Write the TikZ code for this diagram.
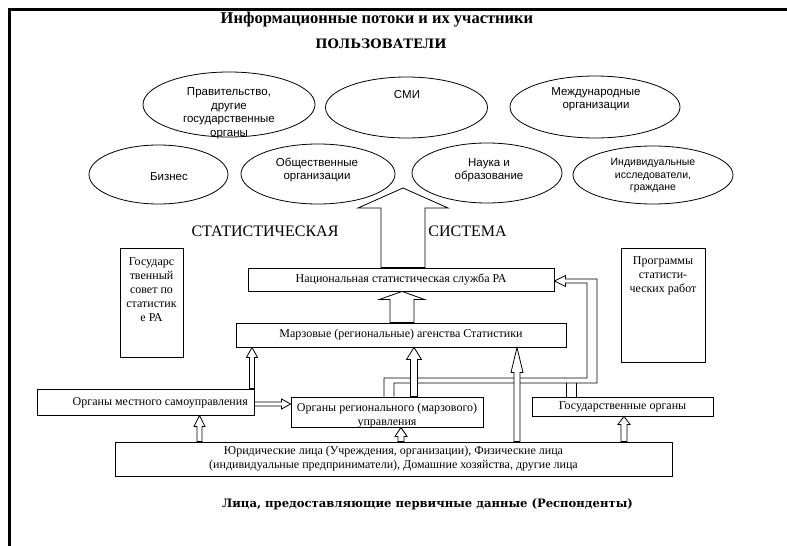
\documentclass[tikz,border=0pt]{standalone}
\usepackage{fontspec}
\setmainfont{Liberation Serif}
\newfontfamily\sansf{Liberation Sans}
\newfontfamily\dvserif{DejaVu Serif}
\usetikzlibrary{shapes.geometric,calc}
\tikzset{
  ell/.style={draw, ellipse, line width=0.8pt, inner sep=0pt},
  box/.style={draw, line width=0.9pt, inner sep=0pt, align=center, font=\fontsize{12}{14}\selectfont},
  txt/.style={inner sep=0pt, align=center, font=\fontsize{12}{14}\selectfont},
  stxt/.style={inner sep=0pt, align=center, font=\sansf\fontsize{11.5}{13.5}\selectfont},
  blk/.style={draw, fill=white, line width=0.8pt, line join=miter},
  conn/.style={draw, line width=0.8pt}
}
\newcommand\blkup[6]{\draw[blk] let \p1=(#2), \p2=(#3) in
  (#1pt-#4pt,\y1) -- (#1pt-#4pt,\y2-#6pt) -- (#1pt-#5pt,\y2-#6pt) -- (#1pt,\y2) --
  (#1pt+#5pt,\y2-#6pt) -- (#1pt+#4pt,\y2-#6pt) -- (#1pt+#4pt,\y1) -- cycle;}
\newcommand\blkright[6]{\draw[blk] let \p1=(#2), \p2=(#3) in
  (\x1,-#1pt+#4pt) -- (\x2-#6pt,-#1pt+#4pt) -- (\x2-#6pt,-#1pt+#5pt) -- (\x2,-#1pt) --
  (\x2-#6pt,-#1pt-#5pt) -- (\x2-#6pt,-#1pt-#4pt) -- (\x1,-#1pt-#4pt) -- cycle;}
\begin{document}
\begin{tikzpicture}[x=1pt,y=-1pt]
\useasboundingbox (0,0) rectangle (787,546);
\draw[line width=3pt] (9,550) -- (9,9) -- (792,9);

% headings
\node[inner sep=0pt, font=\bfseries\fontsize{16.5}{18}\selectfont] (title) at (377,20) {Информационные потоки и их участники};
\node[inner sep=0pt, font=\dvserif\bfseries\fontsize{13}{15}\selectfont] (users) at (381,44) {ПОЛЬЗОВАТЕЛИ};
\node[inner sep=0pt, font=\dvserif\bfseries\fontsize{11.6}{14}\selectfont] (resp) at (427.5,504) {Лица, предоставляющие первичные данные (Респонденты)};

% users ellipses
\node[ell, minimum width=172pt, minimum height=65pt] (e1) at (229,104.5) {};
\node[ell, minimum width=162pt, minimum height=61pt] (e2) at (406.5,107.5) {};
\node[ell, minimum width=170pt, minimum height=62pt] (e3) at (595,107) {};
\node[ell, minimum width=139pt, minimum height=59pt] (e4) at (158.5,174.5) {};
\node[ell, minimum width=154pt, minimum height=60pt] (e5) at (318,174) {};
\node[ell, minimum width=150pt, minimum height=60pt] (e6) at (487,173) {};
\node[ell, minimum width=160pt, minimum height=58pt] (e7) at (653,175) {};

\node[stxt] (t1) at (229,113) {Правительство,\\другие\\государственные\\органы};
\node[stxt] (t2) at (407,95) {СМИ};
\node[stxt] (t3) at (596,99) {Международные\\организации};
\node[stxt] (t4) at (169,177) {Бизнес};
\node[stxt] (t5) at (317,170) {Общественные\\организации};
\node[stxt] (t6) at (489,170) {Наука и\\образование};
\node[stxt, font=\sansf\fontsize{10.5}{12.5}\selectfont] (t7) at (653,175.5) {Индивидуальные\\исследователи,\\граждане};

% system labels
\node[inner sep=0pt, font=\fontsize{16}{18}\selectfont] (stat) at (265,231) {СТАТИСТИЧЕСКАЯ};
\node[inner sep=0pt, font=\fontsize{16}{18}\selectfont] (sys) at (467.5,231) {СИСТЕМА};

% boxes
\node[box, minimum width=63pt, minimum height=109pt] (gsov) at (151.5,302.5) {};
\node[txt] (gsovt) at (151.5,289.5) {Государс\\твенный\\совет по\\статистик\\е РА};
\node[box, minimum width=84pt, minimum height=114pt] (prog) at (663,305) {};
\node[txt] (progt) at (663,275.5) {Программы\\статисти-\\ческих работ};
\node[box, minimum width=306pt, minimum height=23pt] (nat) at (401,279.5) {Национальная статистическая служба РА};
\node[box, minimum width=330pt, minimum height=24pt] (marz) at (401,335) {Марзовые (региональные) агенства Статистики};
\node[box, minimum width=217pt, minimum height=26pt] (mest) at (145.5,402) {};
\node[txt, anchor=east] (mestt) at (248,402.5) {Органы местного самоуправления};
\node[box, minimum width=192pt, minimum height=30pt] (reg) at (387,412) {};
\node[txt] (regt) at (387,415.5) {Органы регионального (марзового)\\управления};
\node[box, minimum width=181pt, minimum height=19pt] (gos) at (622.5,406.5) {Государственные органы};
\node[box, minimum width=557pt, minimum height=34pt] (jur) at (393.5,459) {Юридические лица (Учреждения, организации), Физические лица\\(индивидуальные предприниматели), Домашние хозяйства, другие лица};

% double-line connector into the national service
\draw[conn] let \p1=(reg.north), \p2=($(nat.east)+(0,1.5)$) in
  (384pt,\y1) -- (384pt,-378pt) -- (587pt,-378pt) -- (587pt,\y2-2pt) -- (\x2+11pt,\y2-2pt) --
  (\x2+11pt,\y2-5.5pt) -- (\x2,\y2) -- (\x2+11pt,\y2+5.5pt) -- (\x2+11pt,\y2+2pt) --
  (597pt,\y2+2pt) -- (597pt,-383pt) -- (394pt,-383pt) -- (394pt,\y1);
\draw[conn] let \p1=(gos.north) in (566pt,\y1) -- (566pt,-383pt) (576pt,\y1) -- (576pt,-383pt);

% block arrows
\coordinate (bigtip) at (403,188);
\blkup{403}{nat.north}{bigtip}{22}{45}{20}
\blkup{402}{marz.north}{nat.south}{12}{22.5}{8}
\blkup{252}{mest.north}{marz.south}{2.5}{5.5}{10}
\blkup{414}{reg.north}{marz.south}{3.5}{7.5}{12}
\blkup{517}{jur.north}{marz.south}{3}{6}{25}
\blkup{401}{jur.north}{reg.south}{3}{6}{9}
\blkup{199.5}{jur.north}{mest.south}{2.5}{5.5}{11}
\blkup{624}{jur.north}{gos.south}{3}{6}{8}
\blkright{404}{mest.east}{reg.west}{2}{5}{9}
\end{tikzpicture}
\end{document}
